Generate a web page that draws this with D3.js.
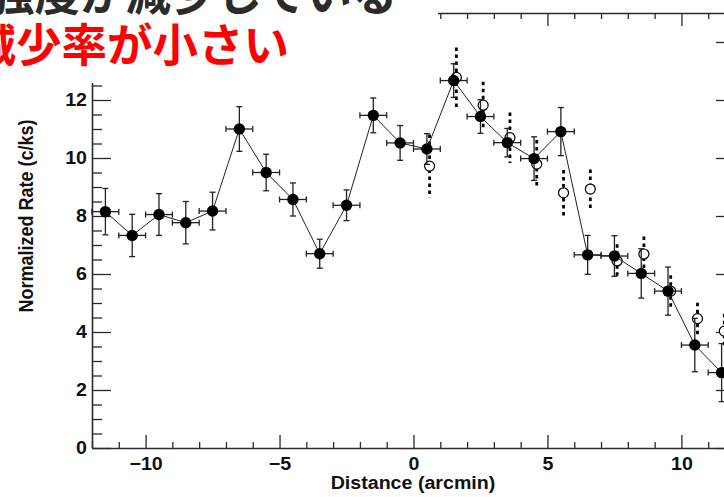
<!DOCTYPE html>
<html>
<head>
<meta charset="utf-8">
<script src="https://cdn.jsdelivr.net/npm/d3@7"></script>
<style>
  html, body { margin: 0; padding: 0; background: #fff; }
  svg { display: block; }
</style>
</head>
<body>
<svg id="chart" width="724" height="497"></svg>
<script>
// ---- data ----
const binCenters = [-11.5, -10.5, -9.5, -8.5, -7.5, -6.5, -5.5, -4.5, -3.5, -2.5, -1.5, -0.5,
                    0.5, 1.5, 2.5, 3.5, 4.5, 5.5, 6.5, 7.5, 8.5, 9.5, 10.5, 11.5];
const rateA = [8.15, 7.33, 8.05, 7.77, 8.17, 11.0, 9.5, 8.57, 6.70, 8.37, 11.47, 10.52,
               10.31, 12.67, 11.43, 10.53, 9.98, 10.91, 6.66, 6.62, 6.02, 5.41, 3.55, 2.60];
const errA  = [0.80, 0.73, 0.72, 0.73, 0.65, 0.77, 0.63, 0.57, 0.50, 0.53, 0.60, 0.60,
               0.53, 0.58, 0.58, 0.49, 0.75, 0.83, 0.67, 0.70, 0.85, 0.83, 0.92, 1.00];
const binHalfWidth = 0.5;

const binCentersB = [0.5, 1.5, 2.5, 3.5, 4.5, 5.5, 6.5, 7.5, 8.5, 9.5, 10.5, 11.5];
const rateB = [9.72, 12.78, 11.82, 10.70, 9.79, 8.80, 8.93, 6.45, 6.69, 5.41, 4.46, 4.03];
const errB  = [1.09, 1.03, 0.81, 0.87, 0.83, 0.79, 0.67, 0.58, 0.60, 0.55, 0.55, 0.60];
const offsetB = 0.1;

const xMajorTicks = [-10, -5, 0, 5, 10];
const yMajorTicks = [0, 2, 4, 6, 8, 10, 12, 14];
const xLabel = "Distance (arcmin)";
const yLabel = "Normalized Rate (c/ks)";
const titleLine1 = "強度が減少している";
const titleLine2 = "減少率が小さい";

// ---- layout ----
const svg = d3.select("#chart");
const X0 = 92, X1 = 735, Y0 = 448, Y1 = 13;
const x = d3.scaleLinear().domain([-12, 12]).range([X0, X1]);
const y = d3.scaleLinear().domain([0, 15]).range([Y0, Y1]);

const xMinor = d3.range(-12, 12.001, 1).filter(v => v % 5 !== 0);
const yMinor = d3.range(0, 15.001, 0.5).filter(v => v % 2 !== 0);

const FONT = "'Liberation Sans', Arial, Helvetica, sans-serif";
const FS = 18;
const STRETCH = 1.09;   // the reference lettering is slightly wide
const axisColor = "#2a2a2a";

function widen(sel) {
  sel.each(function () {
    const w = this.getComputedTextLength();
    if (w > 0) d3.select(this).attr("textLength", w * STRETCH).attr("lengthAdjust", "spacingAndGlyphs");
  });
}
function styleAxis(g, showDomain) {
  g.selectAll(".tick line").attr("stroke", axisColor).attr("stroke-width", 1.3);
  g.select(".domain").attr("stroke", axisColor).attr("stroke-width", 1.6)
    .style("display", showDomain ? null : "none");
  g.selectAll("text").attr("font-family", FONT)
    .attr("font-weight", "bold").attr("font-size", FS + "px").attr("fill", "#111")
    .call(widen);
}

// bottom
svg.append("g").attr("transform", `translate(0,${Y0})`)
  .call(d3.axisBottom(x).tickValues(xMinor).tickSize(-6).tickSizeOuter(0).tickFormat(""))
  .call(g => styleAxis(g, false));
svg.append("g").attr("transform", `translate(0,${Y0})`)
  .call(d3.axisBottom(x).tickValues(xMajorTicks).tickSize(-13).tickSizeOuter(0).tickPadding(9))
  .call(g => styleAxis(g, true));
// top
svg.append("g").attr("transform", `translate(0,${Y1})`)
  .call(d3.axisTop(x).tickValues(xMinor).tickSize(-6).tickSizeOuter(0).tickFormat(""))
  .call(g => styleAxis(g, false));
svg.append("g").attr("transform", `translate(0,${Y1})`)
  .call(d3.axisTop(x).tickValues(xMajorTicks).tickSize(-13).tickSizeOuter(0).tickFormat(""))
  .call(g => styleAxis(g, true));
// left
svg.append("g").attr("transform", `translate(${X0},0)`)
  .call(d3.axisLeft(y).tickValues(yMinor).tickSize(-10).tickSizeOuter(0).tickFormat(""))
  .call(g => styleAxis(g, false));
svg.append("g").attr("transform", `translate(${X0},0)`)
  .call(d3.axisLeft(y).tickValues(yMajorTicks.filter(v => v <= 12)).tickSize(-19).tickSizeOuter(0).tickPadding(5))
  .call(g => styleAxis(g, true));
// right
svg.append("g").attr("transform", `translate(${X1},0)`)
  .call(d3.axisRight(y).tickValues(yMinor).tickSize(-10).tickSizeOuter(0).tickFormat(""))
  .call(g => styleAxis(g, false));
svg.append("g").attr("transform", `translate(${X1},0)`)
  .call(d3.axisRight(y).tickValues(yMajorTicks).tickSize(-19).tickSizeOuter(0).tickFormat(""))
  .call(g => styleAxis(g, true));

// axis titles
svg.append("text").attr("x", 413).attr("y", 489).attr("text-anchor", "middle")
  .attr("font-family", FONT).attr("font-weight", "bold").attr("font-size", FS + "px")
  .attr("fill", "#111").text(xLabel).call(widen);
svg.append("text").attr("transform", `translate(33,216) scale(${STRETCH},1) rotate(-90)`)
  .attr("text-anchor", "middle")
  .attr("font-family", FONT).attr("font-weight", "bold").attr("font-size", FS + "px")
  .attr("fill", "#111").text(yLabel);

// ---- series B: open circles with dashed error bars ----
const dataB = binCentersB.map((c, i) => ({ c: c + offsetB, v: rateB[i], e: errB[i] }));
const gB = svg.append("g");
gB.selectAll("line.eb").data(dataB).join("line")
  .attr("x1", d => x(d.c)).attr("x2", d => x(d.c))
  .attr("y1", d => y(d.v + d.e)).attr("y2", d => y(d.v - d.e))
  .attr("stroke", "#000").attr("stroke-width", 2.8).attr("stroke-dasharray", "3.5,3.5");
gB.selectAll("circle").data(dataB).join("circle")
  .attr("cx", d => x(d.c)).attr("cy", d => y(d.v)).attr("r", 5)
  .attr("fill", "#fff").attr("stroke", "#000").attr("stroke-width", 1.2);

// ---- series A: filled circles with solid error bars and connecting line ----
const dataA = binCenters.map((c, i) => ({ c, v: rateA[i], e: errA[i] }));
const gA = svg.append("g");
gA.append("path").datum(dataA)
  .attr("d", d3.line().x(d => x(d.c)).y(d => y(d.v)))
  .attr("fill", "none").attr("stroke", "#222").attr("stroke-width", 1);
const cap = 3;
const eb = gA.selectAll("g.eb").data(dataA).join("g").attr("class", "eb")
  .attr("stroke", "#222").attr("stroke-width", 1.3);
eb.append("line").attr("x1", d => x(d.c)).attr("x2", d => x(d.c))
  .attr("y1", d => y(d.v + d.e)).attr("y2", d => y(d.v - d.e));
eb.append("line").attr("x1", d => x(d.c) - cap).attr("x2", d => x(d.c) + cap)
  .attr("y1", d => y(d.v + d.e)).attr("y2", d => y(d.v + d.e));
eb.append("line").attr("x1", d => x(d.c) - cap).attr("x2", d => x(d.c) + cap)
  .attr("y1", d => y(d.v - d.e)).attr("y2", d => y(d.v - d.e));
eb.append("line").attr("x1", d => x(d.c - binHalfWidth)).attr("x2", d => x(d.c + binHalfWidth))
  .attr("y1", d => y(d.v)).attr("y2", d => y(d.v));
eb.append("line").attr("x1", d => x(d.c - binHalfWidth)).attr("x2", d => x(d.c - binHalfWidth))
  .attr("y1", d => y(d.v) - cap).attr("y2", d => y(d.v) + cap);
eb.append("line").attr("x1", d => x(d.c + binHalfWidth)).attr("x2", d => x(d.c + binHalfWidth))
  .attr("y1", d => y(d.v) - cap).attr("y2", d => y(d.v) + cap);
gA.selectAll("circle").data(dataA).join("circle")
  .attr("cx", d => x(d.c)).attr("cy", d => y(d.v)).attr("r", 5.7).attr("fill", "#000");

// ---- slide text overlay (white box covering top-left of the plot) ----
svg.append("rect").attr("x", 0).attr("y", 0).attr("width", 438).attr("height", 83).attr("fill", "#fff");
svg.append("text").attr("x", -11).attr("y", 11)
  .attr("font-family", "'Noto Sans CJK JP', sans-serif").attr("font-weight", "bold")
  .attr("font-size", "45.5px").attr("fill", "#2b2b2b").text(titleLine1);
svg.append("text").attr("x", -29.5).attr("y", 62)
  .attr("font-family", "'Noto Sans CJK JP', sans-serif").attr("font-weight", "bold")
  .attr("font-size", "45.5px").attr("fill", "#ff0000").text(titleLine2);
</script>
</body>
</html>
